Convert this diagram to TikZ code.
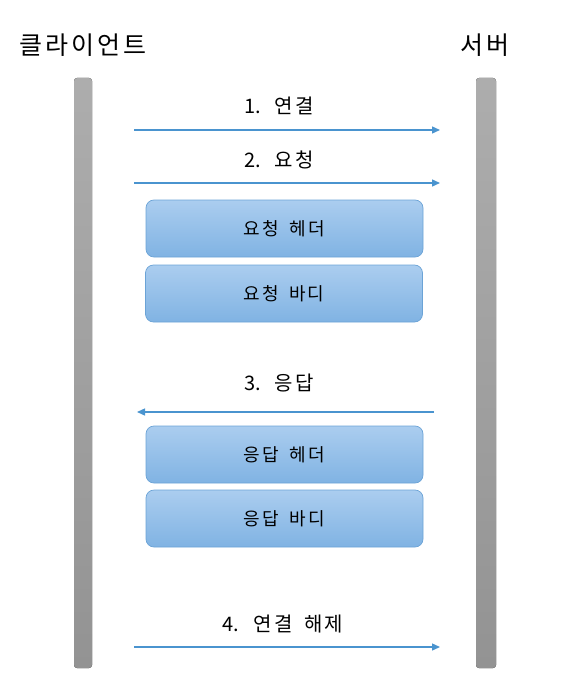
\documentclass[tikz,border=0pt]{standalone}
\usepackage{fontspec}
\setmainfont{Noto Sans CJK KR}[LetterSpace=12,WordSpace=1.7]
\newfontfamily\numfont{Noto Sans CJK KR}
\usetikzlibrary{arrows.meta}
\definecolor{arrowblue}{HTML}{4A94CF}
\definecolor{boxtop}{HTML}{ABCDEF}
\definecolor{boxbot}{HTML}{80B3E3}
\definecolor{boxline}{HTML}{6BA3D6}
\definecolor{bartop}{HTML}{ADADAD}
\definecolor{barbot}{HTML}{939393}
\tikzset{
  lifebar/.style={rounded corners=3pt, top color=bartop, bottom color=barbot, draw=none},
  msgbox/.style={rounded corners=8pt, top color=boxtop, bottom color=boxbot, draw=boxline, line width=0.7pt,
    minimum width=277pt, minimum height=57pt, inner sep=0pt, font=\fontsize{18}{21}\selectfont},
  msg/.style={draw=arrowblue, line width=1.4pt, -{Triangle[length=8pt,width=7pt]}},
  msglabel/.style={font=\fontsize{20}{24}\selectfont, inner sep=0pt},
  title/.style={font=\fontsize{25}{30}\selectfont, inner sep=0pt}
}
\begin{document}
\begin{tikzpicture}[x=1pt,y=-1pt]
\useasboundingbox (0,0) rectangle (572,687);
\fill[lifebar] (74,78) rectangle (92,668);
\fill[lifebar] (476,78) rectangle (496,668);
\node[title] (client) at (83,45) {클라이언트};
\node[title] (server) at (485,45) {서버};
\coordinate (a1s) at (134,130); \coordinate (a1e) at (440,130);
\coordinate (a2s) at (134,183); \coordinate (a2e) at (440,183);
\coordinate (a3s) at (434,412); \coordinate (a3e) at (137,412);
\coordinate (a4s) at (134,647); \coordinate (a4e) at (440,647);
\draw[msg] (a1s) -- (a1e);
\draw[msg] (a2s) -- (a2e);
\draw[msg] (a3s) -- (a3e);
\draw[msg] (a4s) -- (a4e);
\node[msglabel] (l1) at (279,106) {{\numfont 1.} 연결};
\node[msglabel] (l2) at (279,160) {{\numfont 2.} 요청};
\node[msglabel] (l3) at (279,383) {{\numfont 3.} 응답};
\node[msglabel] (l4) at (283,624) {{\numfont 4.} 연결 해제};
\node[msgbox] (b1) at (284.5,228.5) {요청 헤더};
\node[msgbox] (b2) at (284,293.5) {요청 바디};
\node[msgbox] (b3) at (284.5,454.5) {응답 헤더};
\node[msgbox] (b4) at (284.5,518.5) {응답 바디};
\end{tikzpicture}
\end{document}
